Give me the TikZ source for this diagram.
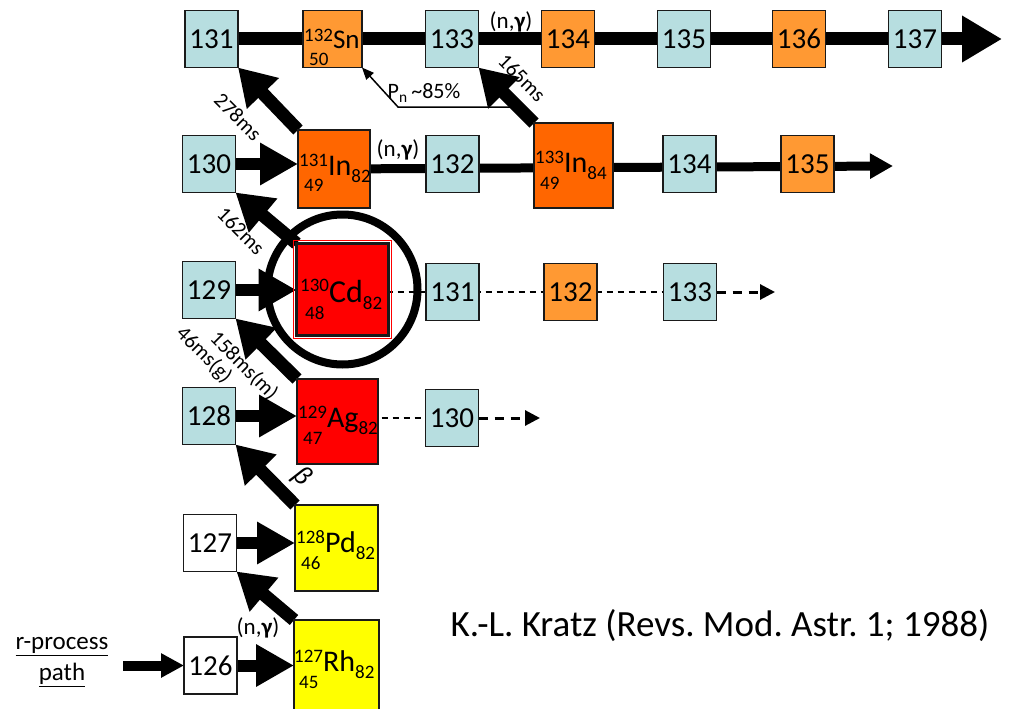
\documentclass[tikz,border=0pt]{standalone}
\usepackage{fontspec}
\setmainfont{Carlito}
\usetikzlibrary{arrows.meta,calc,backgrounds}
\frenchspacing

\definecolor{stableblue}{HTML}{B7DEE0}
\definecolor{lightorange}{HTML}{FF9933}
\definecolor{darkorange}{HTML}{FF6600}
\definecolor{nucred}{HTML}{FF0000}
\definecolor{nucyellow}{HTML}{FFFF00}
\definecolor{edge}{HTML}{1A1A1A}

\newcommand{\fsz}[1]{\fontsize{#1}{#1}\selectfont}
% isotope label: [symbol size]{A}{symbol}{N}{Z}
\newcommand{\nuc}[5][30]{%
  \rlap{\hspace{5pt}\raisebox{-17pt}{\fsz{19}#5}}%
  \raisebox{\dimexpr #1pt*63/100-10pt\relax}{\fsz{19}#2}{\fsz{#1}#3}\raisebox{-7pt}{\fsz{19}#4}}

\tikzset{
  iso/.style={draw=edge, line width=1.3pt, minimum width=53pt, minimum height=57pt,
    inner sep=0pt, outer sep=0pt, font=\fsz{29}},
  stab/.style={iso, fill=stableblue},
  unst/.style={iso, fill=lightorange},
  plainiso/.style={iso, fill=white},
  nucbox/.style={draw=edge, line width=1.3pt, inner sep=0pt, outer sep=0pt},
  nuclab/.style={anchor=base west, inner sep=0pt},
  capture/.style={line width=12pt, -{Triangle[length=38pt,width=40pt]}},
  decay/.style={line width=13pt, -{Triangle[length=36pt,width=42pt]}},
  halflife/.style={font=\fsz{21}, rotate=-45, inner sep=0pt},
  reac/.style={font=\fsz{23}, inner sep=0pt},
  guess/.style={line width=1.5pt, dash pattern=on 6pt off 5pt},
  guessarrow/.style={line width=3pt, dash pattern=on 9pt off 7pt,
    -{Triangle[length=15pt,width=15pt]}},
}

\begin{document}
\begin{tikzpicture}[x=1pt,y=-1pt]
\useasboundingbox (0,0) rectangle (1015,709);

% ---- isotopes, top row (Sn chain)
\node[stab] (t131) at (211.5,39) {131};
\node[unst, minimum width=59pt] (Sn) at (332.5,39) {};
\node[stab] (t133) at (452,39) {133};
\node[unst] (t134) at (568,39) {134};
\node[stab] (t135) at (684,39) {135};
\node[unst] (t136) at (799,39) {136};
\node[stab] (t137) at (915,39) {137};
\coordinate (tEnd) at (1002,39);

% ---- In row
\node[stab] (i130) at (209,164) {130};
\node[nucbox, fill=darkorange, minimum width=72pt, minimum height=78pt] (In131) at (334,169) {};
\node[stab] (i132) at (452.5,164) {132};
\node[nucbox, fill=darkorange, minimum width=79pt, minimum height=85pt] (In133) at (573.5,165.5) {};
\node[stab] (i134) at (689.5,164) {134};
\node[unst] (i135) at (807.5,164) {135};
\coordinate (iEnd) at (893,166);

% ---- Cd row
\node[stab] (c129) at (209,290) {129};
\node[nucbox, fill=nucred, line width=3pt, minimum size=92pt] (Cd) at (342.5,289.5) {};
\draw[nucred, line width=1.2pt] ($(Cd.north west)+(-3,-3)$) rectangle ($(Cd.south east)+(3,3)$);
\node[stab] (c131) at (452.5,292) {131};
\node[unst] (c132) at (570.5,292) {132};
\node[stab] (c133) at (690,292) {133};
\coordinate (cEnd) at (775,292);

% ---- Ag row
\node[stab] (a128) at (209,416) {128};
\node[nucbox, fill=nucred, minimum width=81pt, minimum height=85pt] (Ag) at (337.5,421.5) {};
\node[stab] (a130) at (452,418) {130};
\coordinate (aEnd) at (540,418);

% ---- Pd and Rh rows
\node[plainiso] (p127) at (210,543) {127};
\node[nucbox, fill=nucyellow, minimum width=83pt, minimum height=86pt] (Pd) at (336.5,548) {};
\node[plainiso] (r126) at (210.5,665.5) {126};
\node[nucbox, fill=nucyellow, minimum width=85pt, minimum height=94pt] (Rh) at (336.5,667) {};

% ---- isotope labels
\node[nuclab] (lSn) at ($(Sn.north west)+(1,38)$) {\nuc[27]{132}{Sn}{}{50}};
\node[nuclab] (lIn131) at ($(In131.north west)+(1,45)$) {\nuc{131}{In}{82}{49}};
\node[nuclab] (lIn133) at ($(In133.north west)+(1,49)$) {\nuc{133}{In}{84}{49}};
\node[nuclab] (lCd) at ($(Cd.north west)+(3.5,58.5)$) {\nuc[32]{130}{Cd}{82}{48}};
\node[nuclab] (lAg) at ($(Ag.north west)+(1,48)$) {\nuc{129}{Ag}{82}{47}};
\node[nuclab] (lPd) at ($(Pd.north west)+(1,47)$) {\nuc{128}{Pd}{82}{46}};
\node[nuclab] (lRh) at ($(Rh.north west)+(0,51)$) {\nuc{127}{Rh}{82}{45}};

% ---- reaction path, drawn underneath the boxes
\begin{scope}[on background layer]
  \fill[white] (0,0) rectangle (1015,709);
  \draw[line width=13pt, -{Triangle[length=40pt,width=44pt]}] (t131) -- (tEnd);
  \draw[line width=9pt, -{Triangle[length=23pt,width=24pt]}] (In131) -- (iEnd);
  \draw[guess] (Cd.center |- c131) -- (c133);
  \draw[guessarrow] (c133.east) -- (cEnd);
  \draw[guess] (Ag.center |- a130) -- (a130);
  \draw[guessarrow] (a130.east) -- (aEnd);
  % neutron captures
  \draw[capture] (i130.east) -- (i130.east -| In131.west);
  \draw[capture] (c129.east) -- (c129.east -| Cd.west);
  \draw[capture] (a128.east) -- (a128.east -| Ag.west);
  \draw[capture] (p127.east) -- (p127.east -| Pd.west);
  \draw[capture] (r126.east) -- (r126.east -| Rh.west);
  % beta decays
  \draw[decay] (Rh.north west) -- (p127.south east);
  \draw[decay] (Pd.north west) -- (a128.south east);
  \draw[decay] (Ag.north west) -- (c129.south east);
  \draw[decay] (Cd.north west) -- (i130.south east);
  \draw[decay] (In131.north west) -- (t131.south east);
  \draw[decay] (In133.north west) -- (t133.south east);
  % beta-delayed neutron branch
  \coordinate (pnR) at (512,107);
  \coordinate (pnL) at (398,107);
  \draw[line width=1.5pt, -{Triangle[length=12pt,width=10pt]}] (pnR) -- (pnL) -- (Sn.south east);
  % entry of the r-process path
  \coordinate (rpStart) at (123,665.5);
  \draw[line width=10pt, -{Triangle[length=23pt,width=23pt]}] (rpStart) -- (r126.west);
\end{scope}

% ---- waiting point marker
\draw[line width=8pt] (Cd.center) circle[radius=75pt];

% ---- annotations
\node[halflife] (hl278) at (238,117) {278ms};
\node[halflife] (hl162) at (241,231) {162ms};
\node[halflife] (hl158) at (244,366) {158ms(m)};
\node[halflife] (hl46) at (204,355) {46ms(g)};
\node[halflife] (hl165) at (522,78) {165ms};
\node[font=\itshape\fsz{28}, rotate=-45, inner sep=0pt] (beta) at (302,477) {β};
\node[reac] (ng1) at (511,22) {(n,\textbf{γ})};
\node[reac] (ng2) at (398,150) {(n,\textbf{γ})};
\node[reac] (ng3) at (258,628) {(n,\textbf{γ})};
\node[font=\fsz{22}, inner sep=0pt] (pn) at (424,93) {P\textsubscript{n}\,\textasciitilde85\%};
\node[font=\fsz{37}, inner sep=0pt] (ref) at (720,626) {K.-L. Kratz (Revs. Mod. Astr. 1; 1988)};
\node[font=\fontsize{25}{31}\selectfont, align=center, inner sep=0pt] (rp) at (62,662)
  {\underline{r-process}\\\underline{path}};
\end{tikzpicture}
\end{document}
